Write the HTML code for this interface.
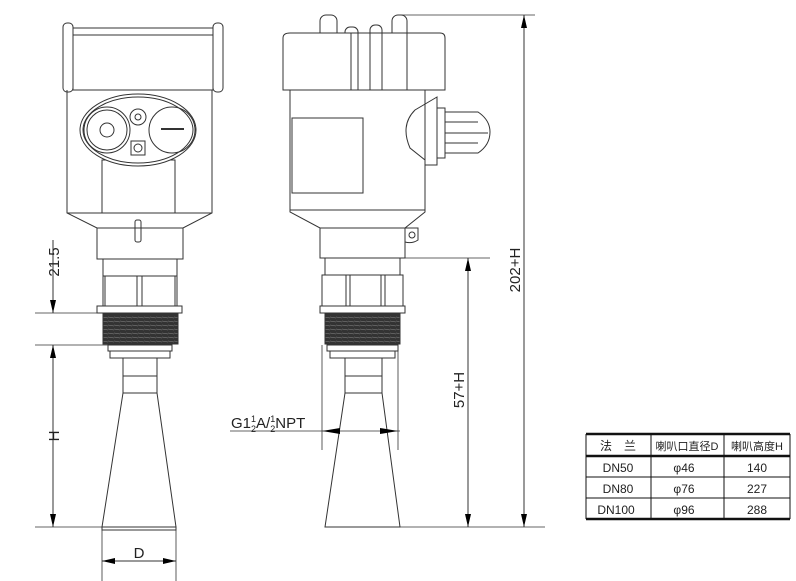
<!DOCTYPE html>
<html><head><meta charset="utf-8"><style>
html,body{margin:0;padding:0;background:#fff;}
svg{display:block;}
text{font-family:"Liberation Sans","Noto Sans CJK SC",sans-serif;fill:#222;}
</style></head><body>
<svg width="796" height="581" viewBox="0 0 796 581" xmlns="http://www.w3.org/2000/svg">
<defs>
<pattern id="th" width="6" height="4" patternUnits="userSpaceOnUse"><rect width="6" height="4" fill="#333"/><line x1="0" y1="1" x2="6" y2="2" stroke="#888" stroke-width="0.6"/></pattern>
</defs>
<g fill="none" stroke="#333" stroke-width="1">
<!-- LEFT VIEW -->
<rect x="63" y="23" width="10" height="69" rx="4"/>
<rect x="213" y="23" width="10" height="69" rx="4"/>
<rect x="73" y="28" width="140" height="62"/>
<line x1="73" y1="35" x2="213" y2="35"/>
<path d="M67,90 V213 L97,228 H183 L212,213 V90"/>
<line x1="67" y1="213" x2="212" y2="213"/>
<rect x="102" y="160" width="73" height="53"/>
<ellipse cx="138" cy="130" rx="58" ry="36" fill="#fff"/>
<ellipse cx="138" cy="130" rx="55" ry="33"/>
<circle cx="107" cy="130" r="23"/><circle cx="107" cy="130" r="20"/><circle cx="107" cy="130" r="7"/>
<circle cx="138" cy="117" r="8"/><circle cx="138" cy="117" r="3"/>
<circle cx="172" cy="130" r="23"/>
<line x1="161" y1="129" x2="184" y2="129" stroke-width="2"/>
<rect x="131" y="141" width="14" height="14"/><circle cx="138" cy="148" r="4"/>
<rect x="135" y="220" width="6" height="22" rx="2"/>
<rect x="97" y="228" width="86" height="31"/>
<rect x="103" y="259" width="74" height="47"/>
<line x1="105" y1="276" x2="105" y2="306"/><line x1="137" y1="276" x2="137" y2="306"/><line x1="142" y1="276" x2="142" y2="306"/><line x1="175" y1="276" x2="175" y2="306"/>
<line x1="103" y1="276" x2="177" y2="276"/>
<rect x="97" y="306" width="85" height="7"/>
<rect x="103" y="314" width="75" height="30" fill="url(#th)"/>
<rect x="108" y="345" width="64" height="6"/>
<rect x="110" y="351" width="60" height="7"/>
<path d="M123,358 V393 L102,527 H176 L157,393 V358"/>
<line x1="123" y1="376" x2="157" y2="376"/><line x1="123" y1="393" x2="157" y2="393"/>
<rect x="102" y="527" width="74" height="3"/>
<!-- left dims -->
<line x1="35" y1="313" x2="103" y2="313" stroke-width="0.8"/>
<line x1="35" y1="345" x2="108" y2="345" stroke-width="0.8"/>
<line x1="35" y1="527" x2="102" y2="527" stroke-width="0.8"/>
<line x1="53" y1="240" x2="53" y2="313"/>
<line x1="53" y1="345" x2="53" y2="527"/>
<line x1="102" y1="530" x2="102" y2="581" stroke-width="0.8"/>
<line x1="176" y1="530" x2="176" y2="581" stroke-width="0.8"/>
<line x1="102" y1="561" x2="176" y2="561"/>

<!-- RIGHT VIEW -->
<rect x="320" y="15" width="17" height="40" rx="6"/>
<rect x="345" y="27" width="13" height="40" rx="5"/>
<rect x="370" y="25" width="12" height="40" rx="5"/>
<rect x="392" y="15" width="15" height="75" rx="6"/>
<path d="M283,90 V38 Q283,33 290,33 H440 Q445,33 445,38 V90 Z" fill="#fff"/>
<line x1="351" y1="33" x2="351" y2="90"/><line x1="358" y1="33" x2="358" y2="90"/>
<line x1="370" y1="33" x2="370" y2="90"/><line x1="382" y1="33" x2="382" y2="90"/>
<line x1="407" y1="33" x2="407" y2="90"/>
<path d="M290,90 V212 L320,228 H405 L425,212 V90"/>
<line x1="290" y1="210" x2="425" y2="210"/>
<rect x="292" y="118" width="71" height="75"/>
<path d="M437,97 L415,110 Q400,125 410,148 L425,160 V165 H437 Z"/>
<rect x="437" y="108" width="8" height="50"/>
<path d="M445,112 H478 Q490,120 490,132 Q490,145 478,153 H445 Z"/>
<line x1="445" y1="122" x2="478" y2="122"/><line x1="445" y1="133" x2="488" y2="133"/><line x1="445" y1="143" x2="478" y2="143"/>
<path d="M405,228 H418 V240 Q412,244 405,242"/><circle cx="412" cy="235" r="3"/>
<rect x="320" y="228" width="85" height="30"/>
<line x1="325" y1="258" x2="325" y2="275"/><line x1="400" y1="258" x2="400" y2="275"/>
<rect x="322" y="275" width="81" height="31"/>
<line x1="346" y1="275" x2="346" y2="306"/><line x1="350" y1="275" x2="350" y2="306"/><line x1="381" y1="275" x2="381" y2="306"/><line x1="385" y1="275" x2="385" y2="306"/>
<rect x="320" y="306" width="85" height="7"/>
<rect x="325" y="314" width="75" height="30" fill="url(#th)"/>
<rect x="327" y="345" width="71" height="6"/>
<rect x="330" y="351" width="65" height="7"/>
<path d="M345,358 V393 L325,527 H400 L382,393 V358"/>
<line x1="345" y1="376" x2="382" y2="376"/><line x1="345" y1="393" x2="382" y2="393"/>
<!-- right dims -->
<line x1="322" y1="345" x2="322" y2="450" stroke-width="0.8"/>
<line x1="398" y1="345" x2="398" y2="450" stroke-width="0.8"/>
<line x1="230" y1="431" x2="400" y2="431" stroke-width="0.8"/>
<line x1="405" y1="258" x2="490" y2="258" stroke-width="0.8"/>
<line x1="400" y1="527" x2="545" y2="527" stroke-width="0.8"/>
<line x1="400" y1="15" x2="535" y2="15" stroke-width="0.8"/>
<line x1="468" y1="258" x2="468" y2="527"/>
<line x1="524" y1="15" x2="524" y2="527"/>
</g>
<!-- arrowheads -->
<g fill="#000">
<polygon points="50,300 56,300 53,313"/>
<polygon points="50,358 56,358 53,345"/>
<polygon points="50,514 56,514 53,527"/>
<polygon points="115,558 115,564 102,561"/>
<polygon points="163,558 163,564 176,561"/>
<polygon points="340,428 340,434 322,431"/>
<polygon points="380,428 380,434 398,431"/>
<polygon points="465,271 471,271 468,258"/>
<polygon points="465,514 471,514 468,527"/>
<polygon points="521,28 527,28 524,15"/>
<polygon points="521,514 527,514 524,527"/>
</g>
<text transform="translate(59,262) rotate(-90)" font-size="15" text-anchor="middle">21.5</text>
<text transform="translate(59,436) rotate(-90)" font-size="15" text-anchor="middle">H</text>
<text x="139" y="558" font-size="15" text-anchor="middle">D</text>
<text x="231" y="428" font-size="15">G1<tspan font-size="9" dy="-6">1</tspan><tspan font-size="9" dx="-5" dy="10">2</tspan><tspan dy="-4">A/</tspan><tspan font-size="9" dy="-6">1</tspan><tspan font-size="9" dx="-5" dy="10">2</tspan><tspan dy="-4">NPT</tspan></text>
<text transform="translate(464,390) rotate(-90)" font-size="15" text-anchor="middle">57+H</text>
<text transform="translate(520,270) rotate(-90)" font-size="15" text-anchor="middle">202+H</text>
<!-- table -->
<g stroke="#111" fill="none">
<line x1="586" y1="434" x2="790" y2="434" stroke-width="2.5"/>
<line x1="586" y1="456" x2="790" y2="456" stroke-width="2.5"/>
<line x1="586" y1="477" x2="790" y2="477" stroke-width="1"/>
<line x1="586" y1="498" x2="790" y2="498" stroke-width="1"/>
<line x1="586" y1="519" x2="790" y2="519" stroke-width="2.5"/>
<line x1="586" y1="434" x2="586" y2="519"/>
<line x1="651" y1="434" x2="651" y2="519"/>
<line x1="724" y1="434" x2="724" y2="519"/>
<line x1="790" y1="434" x2="790" y2="519"/>
</g>
<g font-size="12" text-anchor="middle">
<text x="618" y="450">法　兰</text>
<text x="687" y="450" font-size="11">喇叭口直径D</text>
<text x="757" y="450" font-size="11">喇叭高度H</text>
<text x="618" y="472">DN50</text><text x="684" y="472">φ46</text><text x="757" y="472">140</text>
<text x="618" y="493">DN80</text><text x="684" y="493">φ76</text><text x="757" y="493">227</text>
<text x="616" y="514">DN100</text><text x="684" y="514">φ96</text><text x="757" y="514">288</text>
</g>
</svg>
</body></html>
